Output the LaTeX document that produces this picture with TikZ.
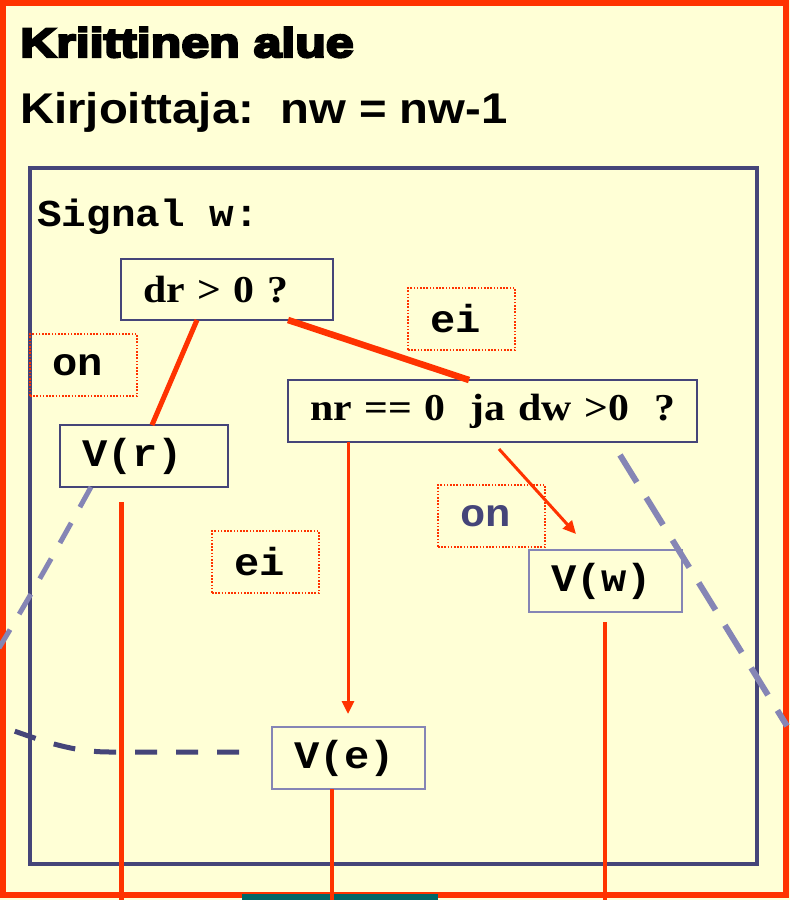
\documentclass[tikz,border=0pt]{standalone}
\usepackage{fontspec}
\usetikzlibrary{arrows.meta}
\newfontfamily\heavyfont[FakeStretch=1.22,FakeBold=6]{Liberation Sans Bold}
\newfontfamily\sansb[FakeStretch=1.1]{Liberation Sans Bold}
\newfontfamily\serifb[FakeStretch=1.1]{Liberation Serif Bold}
\newfontfamily\monob[FakeStretch=1.08]{Liberation Mono Bold}
\definecolor{bgy}{HTML}{FFFFD6}
\definecolor{rd}{HTML}{FF3300}
\definecolor{nv}{HTML}{454579}
\definecolor{lt}{HTML}{8585B5}
\definecolor{tl}{HTML}{006666}
\begin{document}
\begin{tikzpicture}[x=1pt,y=-1pt,
  qbox/.style={draw=nv,line width=2.5pt,anchor=north west,outer sep=0pt,inner xsep=22pt,inner ysep=0pt,align=left,
    font=\serifb\fontsize{38}{40}\selectfont},
  vbox/.style={draw=nv,line width=2.5pt,anchor=north west,outer sep=0pt,inner xsep=22pt,inner ysep=0pt,align=left,
    font=\monob\fontsize{39}{40}\selectfont},
  tagbox/.style={draw=rd,line width=1.3pt,dash pattern=on 1.6pt off 1.6pt,anchor=north west,outer sep=0pt,inner xsep=22pt,inner ysep=0pt,align=left,
    font=\monob\fontsize{39}{40}\selectfont, text width=63pt, minimum height=62pt},
  link/.style={draw=rd,line width=5pt},
  flow/.style={draw=rd,line width=3pt,-{Triangle[length=13pt,width=12pt]}},
  pale/.style={draw=lt,line width=6pt,dash pattern=on 32pt off 18pt},
  thin/.style={draw=lt,line width=5pt,dash pattern=on 23pt off 18pt},
  darkdash/.style={draw=nv,line width=5pt,dash pattern=on 22pt off 19pt}]
\useasboundingbox (0,0) rectangle (790,900);
\fill[bgy] (0,0) rectangle (790,900);
% frames
\draw[rd,line width=6pt] (3,3) rectangle (786,895);
\fill[tl] (242,894) rectangle (438,900);
\draw[nv,line width=4pt] (30,168) rectangle (757,864);
% titles
\node[anchor=base west,inner sep=0pt,font=\heavyfont\fontsize{41}{44}\selectfont] (t1) at (20,57) {Kriittinen alue};
\node[anchor=base west,inner sep=0pt,font=\sansb\fontsize{43}{46}\selectfont] (t2) at (20,123) {Kirjoittaja:\ \ nw = nw-1};
\node[anchor=base west,inner sep=0pt,font=\monob\fontsize{38}{40}\selectfont] (sig) at (37,226) {Signal w:};
% boxes
\node[qbox,text width=168pt,minimum height=61pt] (dr) at (121,259) {dr > 0 ?};
\node[qbox,text width=365pt,minimum height=62pt] (nr) at (288,380) {\makebox[365pt][l]{nr == 0\ \ ja dw >0\ \ ?}};
\node[vbox,text width=124pt,minimum height=62pt] (vr) at (60,425) {V(r)};
\node[vbox,draw=lt,text width=109pt,minimum height=62pt] (vw) at (529,550) {V(w)};
\node[vbox,draw=lt,text width=109pt,minimum height=62pt] (ve) at (272,727) {V(e)};
% tags
\node[tagbox] (ei1) at (408,288) {ei};
\node[tagbox] (on1) at (30,334) {on};
\node[tagbox,text=nv] (on2) at (438,485) {on};
\node[tagbox] (ei2) at (212,531) {ei};
% dashed guides
\coordinate (dl) at (-1,648);
\draw[thin] ([xshift=31pt]vr.south west) .. controls (70,525) and (40,580) .. (dl);
\coordinate (dr1) at (620,455);
\coordinate (dr2) at (787,726);
\draw[pale] (dr1) -- (dr2);
\coordinate (db1) at (239,752);
\coordinate (db2) at (0,726);
\draw[darkdash] (db1) -- (110,752) .. controls (70,752) and (40,740) .. (db2);
% connectors
\draw[link] ([xshift=76pt]dr.south west) -- ([xshift=92pt]vr.north west);
\draw[link,line width=6.5pt] ([xshift=167pt]dr.south west) -- ([xshift=181pt]nr.north west);
\coordinate (eaTip) at (348,714);
\draw[flow] ([xshift=60pt]nr.south west) -- (eaTip);
\coordinate (wTip) at (576,534);
\draw[flow] ([xshift=211pt,yshift=-7pt]nr.south west) -- (wTip);
\coordinate (r1) at (121,502);
\coordinate (r1e) at (121,900);
\draw[link] (r1) -- (r1e);
\coordinate (e1e) at (332,900);
\draw[rd,line width=4.5pt] ([xshift=60pt]ve.south west) -- (e1e);
\coordinate (w1e) at (605,900);
\draw[rd,line width=4.5pt] ([xshift=76pt,yshift=-10pt]vw.south west) -- (w1e);
\end{tikzpicture}
\end{document}
